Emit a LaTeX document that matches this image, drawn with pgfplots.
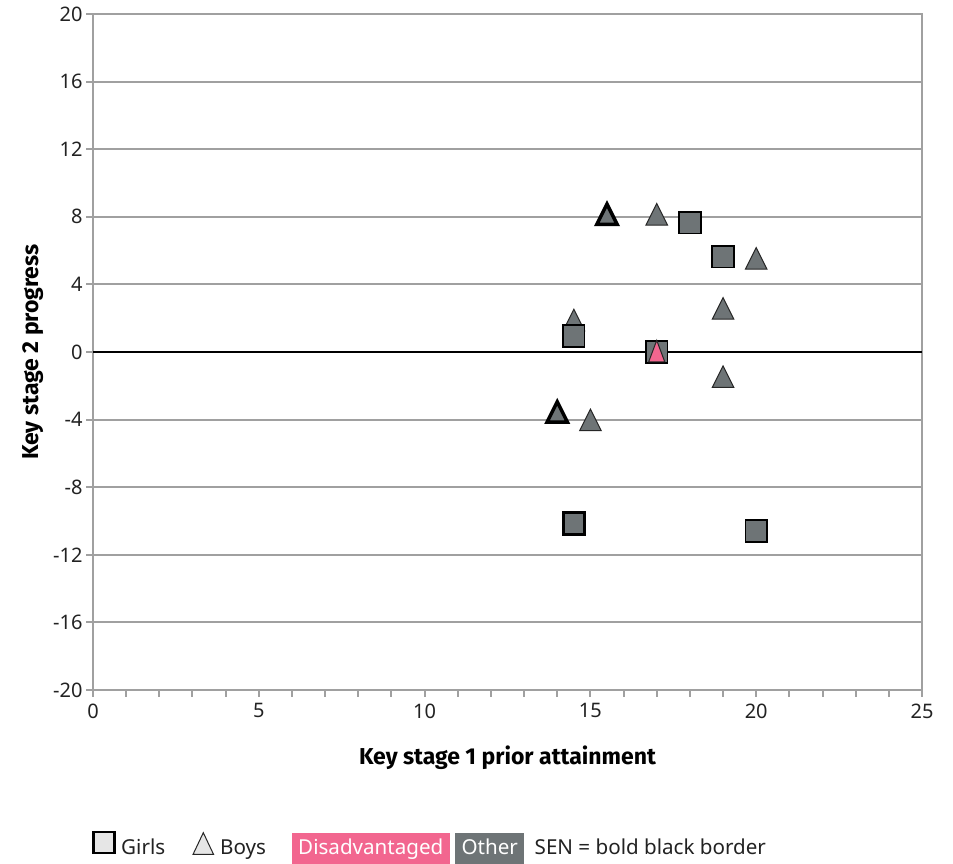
\documentclass[border=0pt]{standalone}
\usepackage{pgfplots}
\pgfplotsset{compat=1.18}
\usepackage{fontspec}
\setmainfont{Noto Sans}
\newfontfamily\lblfont{Fira Sans}
\definecolor{gridgray}{HTML}{A0A0A0}
\definecolor{othergray}{HTML}{6E7476}
\definecolor{dispink}{HTML}{F2668F}
\definecolor{legfill}{HTML}{E6E6E6}
\definecolor{txt}{HTML}{222222}

% triangle whose bounding box is centred on the data point
\pgfdeclareplotmark{ctri}{%
  \pgfpathmoveto{\pgfqpoint{0pt}{\pgfplotmarksize}}%
  \pgfpathlineto{\pgfqpoint{\pgfplotmarksize}{-\pgfplotmarksize}}%
  \pgfpathlineto{\pgfqpoint{-\pgfplotmarksize}{-\pgfplotmarksize}}%
  \pgfpathclose
  \pgfusepathqfillstroke}
% narrower triangle
\pgfdeclareplotmark{ntri}{%
  \pgfpathmoveto{\pgfqpoint{0pt}{\pgfplotmarksize}}%
  \pgfpathlineto{\pgfqpoint{0.75\pgfplotmarksize}{-\pgfplotmarksize}}%
  \pgfpathlineto{\pgfqpoint{-0.75\pgfplotmarksize}{-\pgfplotmarksize}}%
  \pgfpathclose
  \pgfusepathqfillstroke}

\begin{document}
\begin{tikzpicture}
\useasboundingbox (0,0) rectangle (953pt,864pt);
\begin{axis}[
  at={(93pt,174pt)}, anchor=south west,
  scale only axis, width=829pt, height=676pt,
  xmin=0, xmax=25, ymin=-20, ymax=20,
  xtick={0,5,...,25}, minor xtick={1,...,24},
  ytick={-20,-16,...,20},
  tick align=outside, tick pos=left,
  major tick length=7pt, minor tick length=7pt,
  every tick/.style={gridgray, line width=2pt},
  ymajorgrids, grid style={gridgray, line width=2pt},
  axis line style={gridgray, line width=2pt},
  /pgf/number format/assume math mode=true,
  tick label style={font=\fontsize{20}{24}\selectfont, text=txt},
  xticklabel style={yshift=-3pt},
  xlabel={Key stage 1 prior attainment},
  ylabel={Key stage 2 progress},
  label style={font=\fontsize{23}{27}\selectfont\lblfont\bfseries, text=black},
  xlabel style={at={(axis description cs:0.5,-0.1006)}, anchor=center},
  ylabel style={at={(axis description cs:-0.072,0.5)}, anchor=center},
]
% zero line
\addplot[black, line width=2pt, no marks] coordinates {(0,0) (25,0)};
% Boys, other, no SEN
\addplot[only marks, mark=ctri, mark size=10.8pt,
  mark options={fill=othergray, draw=black!85, line width=1pt}]
  coordinates {(17,8.15) (20,5.54) (19,2.58) (14.5,1.89) (19,-1.46) (15,-4.02)};
% Boys, other, SEN
\addplot[only marks, mark=ctri, mark size=10.2pt,
  mark options={fill=othergray, draw=black, line width=3.5pt}]
  coordinates {(15.5,8.15) (14,-3.55)};
% Girls, other
\addplot[only marks, mark=square*, mark size=10.8pt,
  mark options={fill=othergray, draw=black, line width=1.7pt}]
  coordinates {(18,7.65) (19,5.64) (14.5,0.95) (17,0) (20,-10.59)};
% Girls, other, SEN
\addplot[only marks, mark=square*, mark size=10.8pt,
  mark options={fill=othergray, draw=black, line width=3pt}]
  coordinates {(14.5,-10.15)};
% Boys, disadvantaged
\addplot[only marks, mark=ntri, mark size=10.8pt,
  mark options={fill=dispink, draw=black!85, line width=1pt}]
  coordinates {(17,0.05)};
\end{axis}
% legend
\begin{scope}[font=\fontsize{20.6}{24}\selectfont]
\draw[black, line width=2.5pt, fill=legfill] (93.55pt,10.95pt) rectangle (114.45pt,31.75pt);
\node[anchor=base west, inner sep=0pt, text=txt] at (121pt,9pt) {Girls};
\draw[black!85, line width=1pt, fill=legfill, line join=miter] (193pt,9.5pt) -- (213.6pt,9.5pt) -- (203.3pt,31.3pt) -- cycle;
\node[anchor=base west, inner sep=0pt, text=txt] at (220pt,9pt) {Boys};
\fill[dispink] (292pt,0pt) rectangle (449.6pt,31pt);
\node[anchor=base, inner sep=0pt, text=white] at (370.8pt,9pt) {Disadvantaged};
\fill[othergray] (455pt,0pt) rectangle (524.4pt,31pt);
\node[anchor=base, inner sep=0pt, text=white] at (489.7pt,9pt) {Other};
\node[anchor=base west, inner sep=0pt, text=txt] at (534.5pt,9pt) {SEN = bold black border};
\end{scope}
\end{tikzpicture}
\end{document}
